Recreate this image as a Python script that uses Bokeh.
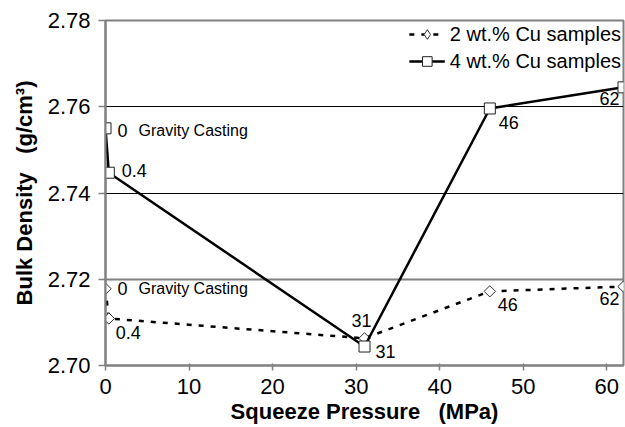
from bokeh.plotting import figure
from bokeh.models import Range1d, FixedTicker, NumeralTickFormatter, Grid, Legend, LegendItem
from bokeh.core.properties import value
from bokeh.embed import file_html
from bokeh.resources import INLINE
import math

# ---- data ----
pressure_2wt = [0, 0.4, 31, 46, 62]
density_2wt = [2.7178, 2.7109, 2.7063, 2.7172, 2.7183]
pressure_4wt = [0, 0.4, 31, 46, 62]
density_4wt = [2.7550, 2.7447, 2.7044, 2.7596, 2.7645]
labels_2wt = ["0", "0.4", "31", "46", "62"]
labels_4wt = ["0", "0.4", "31", "46", "62"]
note_text = "Gravity Casting"
x_ticks = [0, 10, 20, 30, 40, 50, 60]
y_ticks = [2.70, 2.72, 2.74, 2.76, 2.78]
x_min, x_max = 0, 62
y_min, y_max = 2.70, 2.78

FONT = "Liberation Sans"
GRAY = "#808080"
NB = "\u00a0"

p = figure(width=625, height=427, output_backend="svg", toolbar_location=None,
           x_range=Range1d(x_min, x_max), y_range=Range1d(y_min, y_max),
           min_border_left=105, min_border_right=2, min_border_top=20, min_border_bottom=62)
p.background_fill_color = "white"
p.border_fill_color = "white"
p.outline_line_color = GRAY
p.outline_line_width = 2

# axes
p.xaxis.ticker = FixedTicker(ticks=x_ticks)
p.yaxis.ticker = FixedTicker(ticks=y_ticks)
p.yaxis.formatter = NumeralTickFormatter(format="0.00")
for ax in (p.xaxis, p.yaxis):
    ax.axis_line_color = GRAY
    ax.axis_line_width = 2
    ax.major_tick_line_color = GRAY
    ax.major_tick_line_width = 1.5
    ax.minor_tick_line_color = None
    ax.major_label_text_font = FONT
    ax.major_label_text_color = "black"
    ax.axis_label_text_font = FONT
    ax.axis_label_text_font_style = "bold"
    ax.axis_label_text_color = "black"
    ax.axis_label_text_font_size = "22px"
p.xaxis.major_label_text_font_size = "22px"
p.yaxis.major_label_text_font_size = "22px"
p.xaxis.major_tick_out = 5
p.xaxis.major_tick_in = 2
p.yaxis.major_tick_out = 7
p.yaxis.major_tick_in = 0
p.xaxis.major_label_standoff = 8
p.yaxis.major_label_standoff = 8
p.xaxis.axis_label = "Squeeze Pressure" + NB * 3 + "(MPa)"
p.yaxis.axis_label = "Bulk Density" + NB * 3 + "(g/cm\u00b3)"
p.xaxis.axis_label_standoff = 2
p.yaxis.axis_label_standoff = 8

# grids
p.xgrid.grid_line_color = None
p.ygrid.ticker = FixedTicker(ticks=[2.74, 2.76])
p.ygrid.grid_line_color = "black"
p.ygrid.grid_line_width = 1
p.add_layout(Grid(dimension=1, ticker=FixedTicker(ticks=[2.72]),
                  grid_line_color=GRAY, grid_line_width=2))

# series
l2 = p.line(pressure_2wt, density_2wt, line_color="black", line_width=2.5, line_dash="5 7")
m2_leg = p.scatter(pressure_2wt, density_2wt, marker="diamond", size=10,
                   fill_color="white", line_color="#333333", line_width=1)
m2 = p.scatter(pressure_2wt, density_2wt, marker="square", angle=math.pi / 4, size=8,
               fill_color="white", line_color="#333333", line_width=1)
l4 = p.line(pressure_4wt, density_4wt, line_color="black", line_width=2.5)
m4 = p.scatter(pressure_4wt, density_4wt, marker="square", size=11,
               fill_color="white", line_color="#222222", line_width=1)

# point labels (offsets in screen pixels)
off_4wt = [(12, 2, "left"), (13, -2, "left"), (11, 5, "left"), (9, 14, "left"), (-4, 11, "right")]
off_2wt = [(12, 0, "left"), (7, 14, "left"), (-3, -18, "center"), (8, 13, "left"), (-4, 12, "right")]
for xs, ys, labs, offs in ((pressure_4wt, density_4wt, labels_4wt, off_4wt),
                            (pressure_2wt, density_2wt, labels_2wt, off_2wt)):
    for i, lab in enumerate(labs):
        dx, dy, al = offs[i]
        p.text(x=[xs[i]], y=[ys[i]], text=[lab], x_offset=dx, y_offset=dy,
               text_align=al, text_baseline="middle", text_font=value(FONT),
               text_font_size="18px", text_color="black")
    p.text(x=[xs[0]], y=[ys[0]], text=[note_text], x_offset=33, y_offset=offs[0][1],
           text_align="left", text_baseline="middle", text_font=value(FONT),
           text_font_size="16px", text_color="black")

legend = Legend(items=[LegendItem(label="2 wt.% Cu samples", renderers=[l2, m2_leg]),
                       LegendItem(label="4 wt.% Cu samples", renderers=[l4, m4])],
                location="top_right")
legend.background_fill_alpha = 0
legend.border_line_color = None
legend.label_text_font = FONT
legend.label_text_font_size = "20px"
legend.label_text_color = "black"
legend.glyph_width = 36
legend.glyph_height = 24
legend.label_height = 24
legend.label_standoff = 5
legend.spacing = 3
legend.padding = 3
legend.margin = 2
p.add_layout(legend)

open("out.html", "w").write(file_html(p, INLINE))
